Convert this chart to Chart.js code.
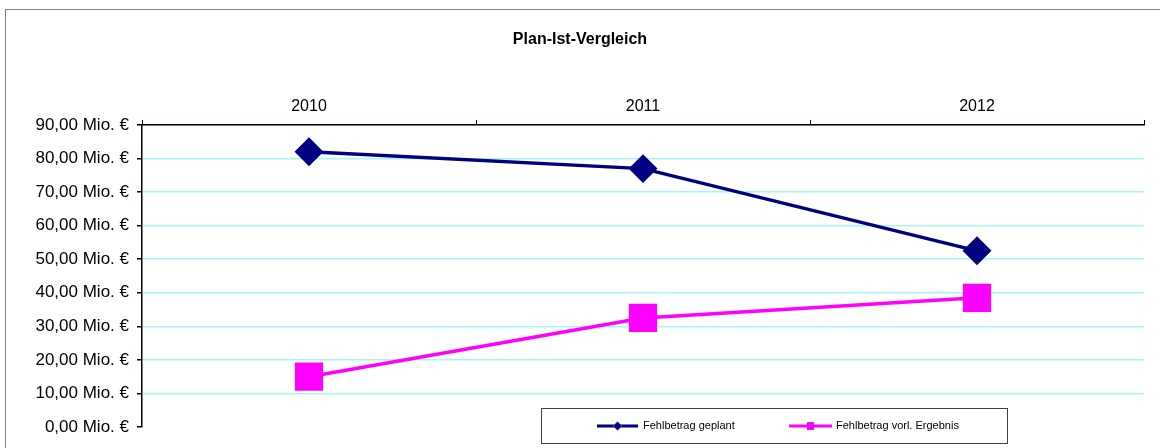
<!DOCTYPE html>
<html>
<head>
<meta charset="utf-8">
<script src="https://cdn.jsdelivr.net/npm/chart.js@4/dist/chart.umd.min.js"></script>
<style>
  html, body { margin: 0; padding: 0; background: #fff; }
  #wrap { position: relative; width: 1160px; height: 448px; overflow: hidden; }
  #frame { position: absolute; left: 5px; top: 9px; width: 1200px; height: 500px;
           border-left: 1px solid #808080; border-top: 1px solid #808080; }
  #chart { position: absolute; left: 0; top: 0; }
</style>
</head>
<body>
<div id="wrap">
  <div id="frame"></div>
  <canvas id="chart" width="1160" height="448"></canvas>
</div>
<script>
const chartTitle = "Plan-Ist-Vergleich";
const years = ["2010", "2011", "2012"];
const geplant = [82, 77, 52.5];
const ergebnis = [15, 32.5, 38.5];
const seriesNames = ["Fehlbetrag geplant", "Fehlbetrag vorl. Ergebnis"];
const yMin = 0, yMax = 90, yStep = 10;

const FONT = "'Liberation Sans', Arial, sans-serif";

function fmtMio(v) {
  return v.toFixed(2).replace(".", ",") + " Mio. €";
}

// title sits centred on the whole frame, not on the plot
const frameTitle = {
  id: "frameTitle",
  afterDraw(chart) {
    const ctx = chart.ctx;
    ctx.save();
    ctx.fillStyle = "#000";
    ctx.font = "bold 16px " + FONT;
    ctx.textAlign = "center";
    ctx.textBaseline = "middle";
    ctx.fillText(chartTitle, 580, 40);
    ctx.restore();
  }
};

// legend box drawn by hand, like the old office chart
const boxLegend = {
  id: "boxLegend",
  afterDraw(chart) {
    const ctx = chart.ctx;
    ctx.save();
    ctx.fillStyle = "#fff";
    ctx.fillRect(541, 408, 466, 35);
    ctx.strokeStyle = "#404040";
    ctx.lineWidth = 1;
    ctx.strokeRect(541.5, 408.5, 466, 35);

    const items = [
      { x0: 597, x1: 638, tx: 643 },
      { x0: 789, x1: 832, tx: 836 }
    ];
    chart.data.datasets.forEach((ds, i) => {
      const it = items[i];
      const y = 426;
      ctx.strokeStyle = ds.borderColor;
      ctx.lineWidth = 3;
      ctx.beginPath();
      ctx.moveTo(it.x0, y);
      ctx.lineTo(it.x1, y);
      ctx.stroke();
      Chart.helpers.drawPoint(ctx, {
        pointStyle: ds.pointStyle, radius: i === 0 ? 4.5 : 5, borderWidth: 0
      }, (it.x0 + it.x1) / 2, y);
      ctx.fillStyle = ds.pointBackgroundColor;
      ctx.fill();
      ctx.fillStyle = "#000";
      ctx.font = "11px " + FONT;
      ctx.textBaseline = "middle";
      ctx.textAlign = "left";
      ctx.fillText(ds.label, it.tx, y);
    });
    ctx.restore();
  }
};

new Chart(document.getElementById("chart"), {
  type: "line",
  data: {
    labels: years,
    datasets: [
      {
        label: seriesNames[0],
        data: geplant,
        borderColor: "#000080",
        backgroundColor: "#000080",
        pointBackgroundColor: "#000080",
        pointBorderColor: "#000080",
        pointStyle: "rectRot",
        pointRadius: 12,
        borderWidth: 3.5,
        tension: 0
      },
      {
        label: seriesNames[1],
        data: ergebnis,
        borderColor: "#ff00ff",
        backgroundColor: "#ff00ff",
        pointBackgroundColor: "#ff00ff",
        pointBorderColor: "#ff00ff",
        pointStyle: "rect",
        pointRadius: 17.5,
        borderWidth: 3.5,
        tension: 0
      }
    ]
  },
  options: {
    responsive: false,
    animation: false,
    // big markers would otherwise push the plot in from the right
    layout: { autoPadding: false, padding: { left: 0, right: 16, top: 0, bottom: 21 } },
    plugins: {
      legend: { display: false },
      tooltip: { enabled: false },
      title: { display: false }
    },
    scales: {
      x: {
        position: "top",
        offset: true,
        afterFit(scale) {
          scale.height = 125;
        },
        grid: {
          offset: true,
          drawOnChartArea: false,
          drawTicks: true,
          tickLength: 5,
          color: "#000",
          lineWidth: 1
        },
        border: { display: true, color: "#000", width: 1.5 },
        ticks: {
          color: "#000",
          padding: 4,
          font: { family: FONT, size: 16 }
        }
      },
      y: {
        min: yMin,
        max: yMax,
        afterFit(scale) { scale.width = 142; },
        grid: {
          color: ctx => (ctx.tick && ctx.tick.value === 0) ? "rgba(0,0,0,0)" : "#a4f6f6",
          tickColor: "#000",
          tickLength: 5,
          lineWidth: 1.5
        },
        border: { display: true, color: "#000", width: 1.5 },
        ticks: {
          stepSize: yStep,
          color: "#000",
          padding: 8,
          font: { family: FONT, size: 17 },
          callback: v => fmtMio(v)
        }
      }
    }
  },
  plugins: [frameTitle, boxLegend]
});
</script>
</body>
</html>
